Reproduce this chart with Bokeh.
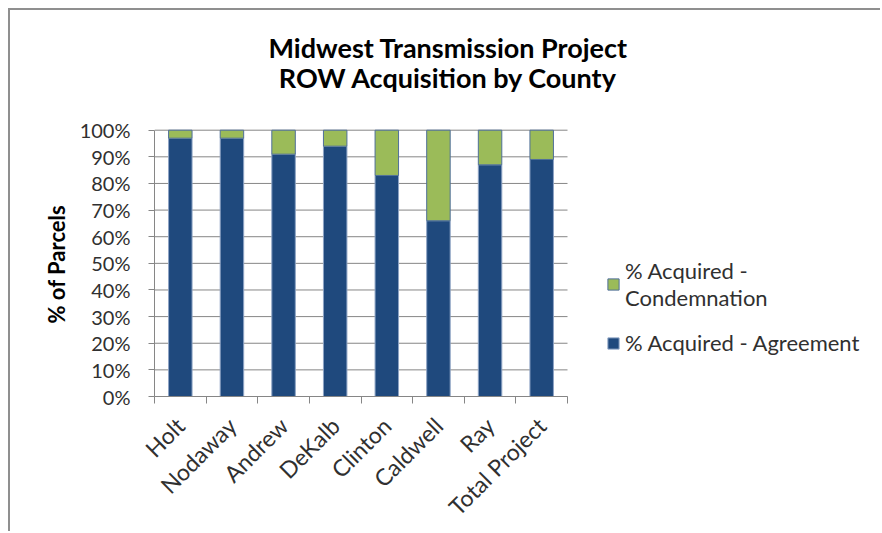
import numpy as np
from bokeh.plotting import figure
from bokeh.models import (ColumnDataSource, FixedTicker, Range1d, Legend, LegendItem,
                          Label, NumeralTickFormatter, Title)
from bokeh.embed import file_html
from bokeh.resources import INLINE

counties = ["Holt", "Nodaway", "Andrew", "DeKalb", "Clinton", "Caldwell", "Ray", "Total Project"]
agreement = [0.97, 0.97, 0.91, 0.94, 0.83, 0.66, 0.87, 0.89]
condemnation = [0.03, 0.03, 0.09, 0.06, 0.17, 0.34, 0.13, 0.11]
y_ticks = [0.0, 0.1, 0.2, 0.3, 0.4, 0.5, 0.6, 0.7, 0.8, 0.9, 1.0]
title_lines = ["Midwest Transmission  Project", "ROW Acquisition  by County"]
series_names = ["% Acquired -\nCondemnation", "% Acquired - Agreement"]
y_label = "% of Parcels"

BLUE = "#1F497D"
GREEN = "#9BBB59"
GRID = "#868686"
TXT = "#303030"
FONT = "Lato"

# layout (pixels)
W, H = 872, 523
LEFT, BOTTOM = 144, 136
BAR_AREA_W, BAR_AREA_H = 413, 267
frame_w = W - LEFT
frame_h = H - BOTTOM

n = len(counties)
xpos = [i + 0.5 for i in range(n)]
src = ColumnDataSource(dict(x=xpos, agr=agreement, con=condemnation))

p = figure(width=W, height=H,
           x_range=Range1d(0, n * frame_w / BAR_AREA_W),
           y_range=Range1d(0, frame_h / BAR_AREA_H),
           output_backend="svg", toolbar_location=None,
           min_border_left=LEFT, min_border_right=0, min_border_top=0, min_border_bottom=BOTTOM)
p.outline_line_color = None
p.background_fill_color = "white"
p.border_fill_color = "white"
p.styles = {"margin-left": "8px", "margin-top": "8px",
            "border-left": "2px solid #8f8f8f", "border-top": "2px solid #8f8f8f"}

# horizontal gridlines over the bar area only
p.xgrid.grid_line_color = None
p.ygrid.grid_line_color = None
p.segment(x0=[0] * len(y_ticks), x1=[n] * len(y_ticks), y0=y_ticks, y1=y_ticks,
          line_color=GRID, line_width=1, level="underlay")

rs = p.vbar_stack(["agr", "con"], x="x", width=0.455, color=[BLUE, GREEN], source=src,
                  line_color=["#8da3c4", "#4f6f99"], line_width=1)
r_agr, r_con = rs

xa = p.xaxis[0]
xa.bounds = (0, n)
xa.ticker = FixedTicker(ticks=xpos, minor_ticks=list(range(n + 1)))
xa.major_label_overrides = {xv: c for xv, c in zip(xpos, counties)}
xa.major_tick_line_color = None
xa.minor_tick_line_color = GRID
xa.minor_tick_out = 7
xa.minor_tick_in = 0
xa.axis_line_color = GRID
xa.major_label_orientation = np.pi / 4
xa.major_label_text_font = FONT
xa.major_label_text_font_size = "23px"
xa.major_label_text_color = TXT
xa.major_label_standoff = 18

ya = p.yaxis[0]
ya.bounds = (0, 1)
ya.ticker = FixedTicker(ticks=y_ticks)
ya.formatter = NumeralTickFormatter(format="0%")
ya.minor_tick_line_color = None
ya.major_tick_line_color = GRID
ya.major_tick_out = 6
ya.major_tick_in = 0
ya.axis_line_color = GRID
ya.major_label_text_font = FONT
ya.major_label_text_font_size = "20px"
ya.major_label_text_color = TXT
ya.major_label_standoff = 18

# y axis title, placed beside the bar area
p.add_layout(Title(text=y_label, align="left", offset=73, text_font=FONT,
                   text_font_style="bold", text_font_size="22px", text_color="black",
                   standoff=14), "left")

# chart title (screen units relative to the frame's bottom-left corner)
for i, t in enumerate(title_lines):
    p.add_layout(Label(x=297, y=349 - 30 * i, x_units="screen", y_units="screen", text=t,
                       text_align="center", text_baseline="alphabetic", text_font=FONT,
                       text_font_style="bold", text_font_size="27px", text_color="black"))

legend = Legend(items=[LegendItem(label=series_names[0], renderers=[r_con]),
                       LegendItem(label=series_names[1], renderers=[r_agr])],
                location=(452, 40), padding=0, margin=0, border_line_color=None,
                background_fill_alpha=0, glyph_width=14, glyph_height=14, spacing=18,
                label_text_font=FONT, label_text_font_size="22px", label_text_color=TXT,
                label_text_line_height=1.5, label_standoff=5)
p.add_layout(legend)

open("out.html", "w").write(file_html(p, INLINE))
